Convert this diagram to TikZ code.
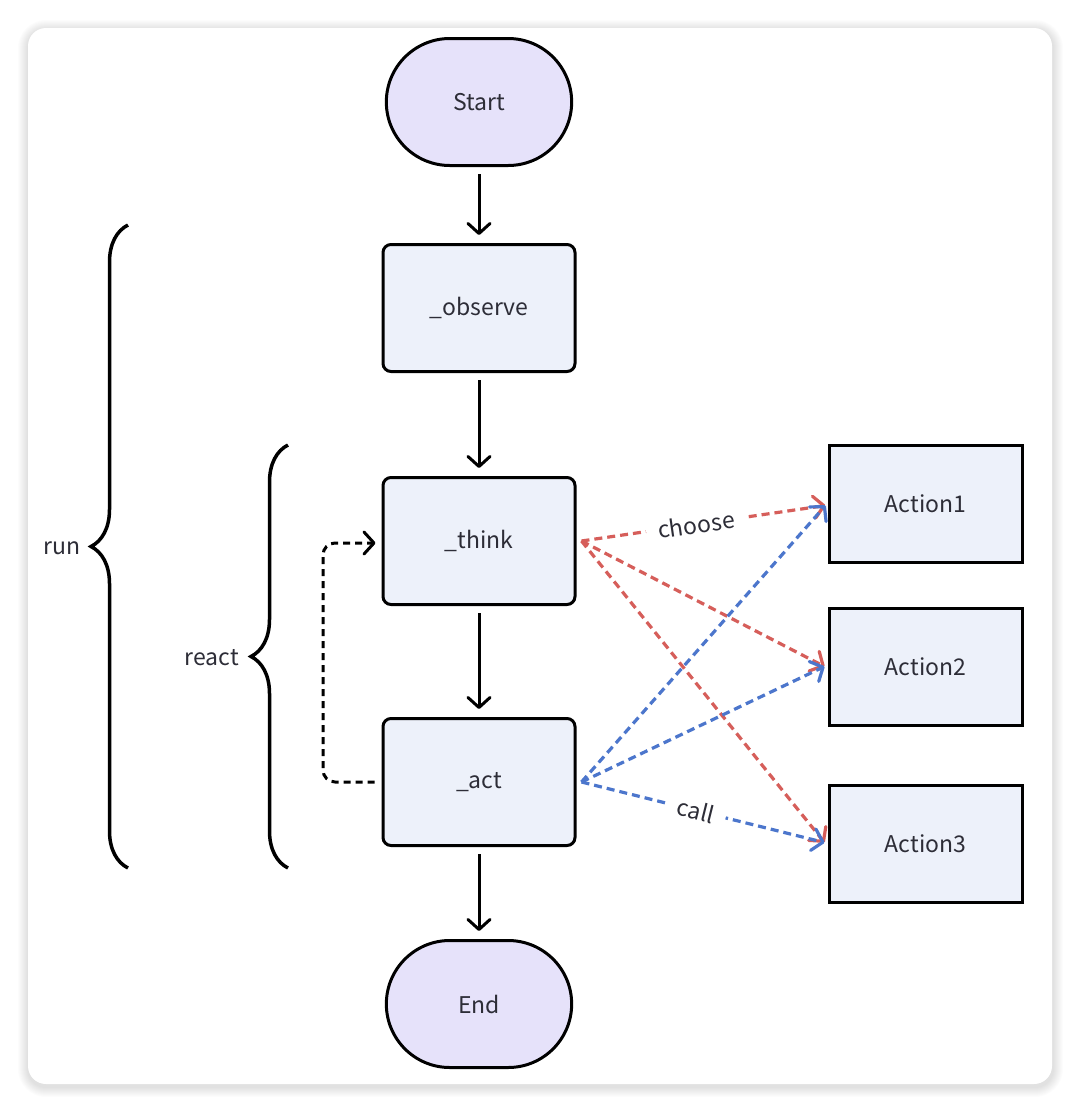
\documentclass[tikz,border=0pt]{standalone}
\usepackage{fontspec}
\setmainfont{Noto Sans CJK SC}
\usetikzlibrary{arrows.meta,decorations.pathreplacing,calc,shapes.misc}
\definecolor{lav}{RGB}{230,226,250}
\definecolor{boxc}{RGB}{237,241,250}
\definecolor{txt}{RGB}{45,45,55}
\definecolor{redc}{RGB}{214,94,90}
\definecolor{bluec}{RGB}{76,118,204}
\begin{document}
\begin{tikzpicture}[x=1pt,y=-1pt,
  lbl/.style={font=\fontsize{23}{27}\selectfont, text=txt},
  term/.style={rounded rectangle, draw=black, line width=3pt, fill=lav, minimum width=192pt, minimum height=127pt, lbl},
  proc/.style={rectangle, rounded corners=8pt, draw=black, line width=3pt, fill=boxc, minimum width=192pt, minimum height=127pt, lbl},
  actbox/.style={rectangle, draw=black, line width=3pt, fill=boxc, minimum width=193pt, minimum height=117pt, lbl},
  tip/.style={-{Straight Barb[length=10pt,width=22pt,line cap=round,line join=round]}},
  flow/.style={draw=black, line width=3pt, tip},
  loopl/.style={draw=black, line width=3pt, dash pattern=on 7pt off 5pt, rounded corners=12pt, tip},
  redarr/.style={draw=redc, line width=3.2pt, dash pattern=on 8pt off 5pt, tip},
  bluearr/.style={draw=bluec, line width=3.2pt, dash pattern=on 8pt off 5pt, tip},
  onl/.style={lbl, midway, sloped, fill=white, inner xsep=12pt, inner ysep=3pt},
  brc/.style={draw=black, line width=3.5pt, decorate, decoration={brace, amplitude=37pt}}
]
\useasboundingbox (0,0) rectangle (1080,1112);
\fill[white] (0,0) rectangle (1080,1112);
% card shadow
\foreach \i in {1,...,10}{
  \fill[black, opacity=0.012, rounded corners=18pt+\i pt] ($(28,30)-(\i,\i)$) rectangle ($(1053,1087)+(\i,\i)$);
}
\fill[white, rounded corners=18pt] (28,28) rectangle (1052,1084);

% nodes
\node[term] (start) at (479,102) {Start};
\node[proc] (obs) at (479,308) {\_observe};
\node[proc] (think) at (479,541) {\_think};
\node[proc] (act) at (479,782) {\_act};
\node[term] (end) at (479,1004) {End};
\node[actbox] (a1) at (925.5,503.5) {Action1};
\node[actbox] (a2) at (925.5,666.5) {Action2};
\node[actbox] (a3) at (925.5,843.5) {Action3};

% main flow
\draw[flow] ($(start.south)+(0,7)$) -- ($(obs.north)+(0,-8)$);
\draw[flow] ($(obs.south)+(0,7)$) -- ($(think.north)+(0,-8)$);
\draw[flow] ($(think.south)+(0,7)$) -- ($(act.north)+(0,-8)$);
\draw[flow] ($(act.south)+(0,7)$) -- ($(end.north)+(0,-8)$);

% loop back
\coordinate (lpa) at ($(act.west)+(-7,0)$);
\coordinate (lpt) at ($(think.west)+(-6,2)$);
\draw[loopl] (lpa) -- (323,782) -- (323,543) -- (lpt);

% choose (red)
\coordinate (ts) at ($(think.east)+(5,0)$);
\draw[redarr] (ts) -- ($(a1.west)+(-2,2)$) node[onl, pos=0.47] {choose};
\draw[redarr] (ts) -- ($(a2.west)+(-3,0)$);
\draw[redarr] (ts) -- ($(a3.west)+(-3,-1)$);

% call (blue)
\coordinate (as) at ($(act.east)+(5,0)$);
\draw[bluearr] (as) -- ($(a1.west)+(-2,2)$);
\draw[bluearr] (as) -- ($(a2.west)+(-3,0)$);
\draw[bluearr] (as) -- ($(a3.west)+(-3,-1)$) node[onl, pos=0.47] {call};

% braces
\draw[brc] (128,868) -- (128,225);
\node[lbl] (runl) at (62,548) {run};
\draw[brc] (288,868) -- (288,445);
\node[lbl] (reactl) at (212,658) {react};
\end{tikzpicture}
\end{document}
